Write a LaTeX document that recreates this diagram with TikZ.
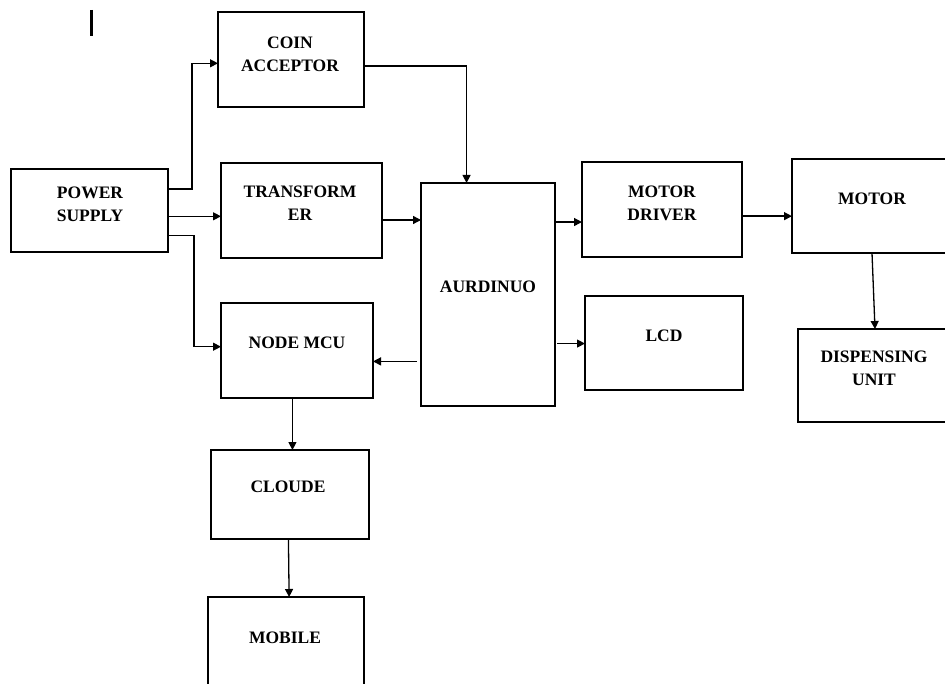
\documentclass[tikz,border=0pt]{standalone}
\usepackage{fontspec}
\setmainfont{Liberation Serif}
\usetikzlibrary{arrows.meta,calc}
\begin{document}
\begin{tikzpicture}[x=1pt, y=-1pt, line width=1.3pt,
        blk/.style={draw, line width=1.5pt, inner sep=0pt, outer sep=0pt, anchor=north west},
        lbl/.style={align=center, font=\fontsize{17.5}{23}\selectfont\bfseries},
        >={Triangle[length=8pt, width=8pt]}]
        \useasboundingbox (0,0) rectangle (945,684);
        \clip (0,0) rectangle (945,684);

        % blocks
        \path (11, 169)  node[blk, minimum width=157pt, minimum height=83pt]  (ps)  {};
        \path (218, 12)  node[blk, minimum width=146pt, minimum height=95pt]  (ca)  {};
        \path (221, 163) node[blk, minimum width=161pt, minimum height=95pt]  (tr)  {};
        \path (221, 303) node[blk, minimum width=152pt, minimum height=95pt]  (nm)  {};
        \path (421, 183) node[blk, minimum width=134pt, minimum height=223pt] (ar)  {};
        \path (582, 162) node[blk, minimum width=160pt, minimum height=95pt]  (md)  {};
        \path (585, 296) node[blk, minimum width=158pt, minimum height=94pt]  (lcd) {};
        \path (792, 159) node[blk, minimum width=160pt, minimum height=94pt]  (mo)  {};
        \path (798, 329) node[blk, minimum width=154pt, minimum height=93pt]  (dis) {};
        \path (211, 450) node[blk, minimum width=158pt, minimum height=89pt]  (cl)  {};
        \path (208, 597) node[blk, minimum width=156pt, minimum height=100pt] (mob) {};

        % texts
        \path (90, 204.5)  node[lbl] (pstext)  {POWER\\SUPPLY};
        \path (290, 54.5)  node[lbl] (catext)  {COIN\\ACCEPTOR};
        \path (300, 203.5) node[lbl] (trtext)  {TRANSFORM\\ER};
        \path (297, 343)   node[lbl] (nmtext)  {NODE MCU};
        \path (488, 287)   node[lbl] (artext)  {AURDINUO};
        \path (662, 203.5) node[lbl] (mdtext)  {MOTOR\\DRIVER};
        \path (664, 336)   node[lbl] (lcdtext) {LCD};
        \path (872, 199)   node[lbl] (motext)  {MOTOR};
        \path (874, 368)   node[lbl] (distext) {DISPENSING\\UNIT};
        \path (288, 487)   node[lbl] (cltext)  {CLOUDE};
        \path (285, 638)   node[lbl] (mobtext) {MOBILE};

        % connectors
        \draw[->] ($(ps.north east)!0.24!(ps.south east)$) -- ++(24,0)
            |- ($(ca.north west)!0.54!(ca.south west)$);
        \draw[->] ($(ps.north east)!0.57!(ps.south east)$) coordinate (psB) -- (psB -| tr.west);
        \draw[->] ($(ps.north east)!0.8!(ps.south east)$) -- ++(26,0)
            |- ($(nm.north west)!0.46!(nm.south west)$);
        \draw[->] ($(ca.north east)!0.57!(ca.south east)$)
            -| ($(ar.north west)!0.34!(ar.north east)$);
        \draw[->] ($(tr.north east)!0.6!(tr.south east)$) coordinate (trB) -- (trB -| ar.west);
        \draw[->, shorten <=4pt] ($(ar.north west)!0.8!(ar.south west)$) coordinate (arB) -- (arB -| nm.east);
        \draw[->] ($(ar.north east)!0.175!(ar.south east)$) coordinate (arC) -- (arC -| md.west);
        \draw[->, shorten <=2pt] ($(ar.north east)!0.72!(ar.south east)$) coordinate (arD) -- (arD -| lcd.west);
        \draw[->] ($(md.north east)!0.57!(md.south east)$) coordinate (mdA) -- (mdA -| mo.west);
        \draw[->] (mo.south) -- (dis.north);
        \draw[->] ($(nm.south west)!0.47!(nm.south east)$) coordinate (nmA) -- (nmA |- cl.north);
        \draw[->] ($(cl.south west)!0.49!(cl.south east)$) -- ($(mob.north west)!0.52!(mob.north east)$);

        % stray mark
        \draw[line width=2.5pt] (91.5, 10) -- (91.5, 36);
    \end{tikzpicture}
\end{document}
